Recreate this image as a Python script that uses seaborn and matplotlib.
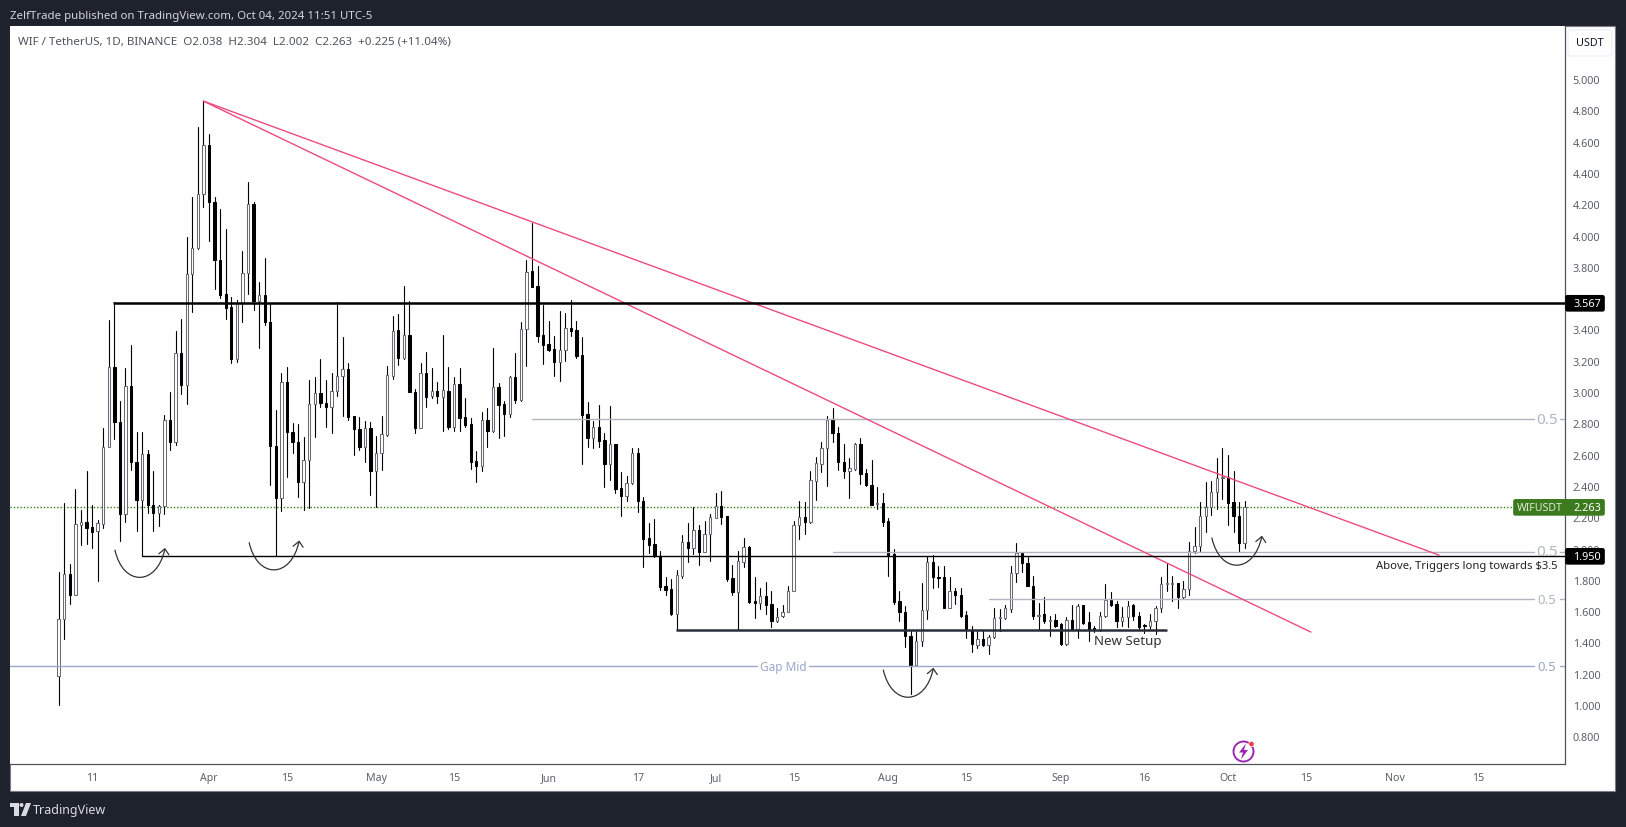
import numpy as np
import pandas as pd
import matplotlib
matplotlib.use('Agg')
import matplotlib.pyplot as plt
import seaborn as sns
from matplotlib.patches import Rectangle, FancyBboxPatch, PathPatch, Polygon, Circle
from matplotlib.path import Path

# ---------------------- data: WIF/USDT daily candles, day 0 = Apr 1 ----------------------
first_day = -27

opens = [1.187,1.547,1.84,1.705,2.152,2.169,2.135,2.11,2.158,2.646,
         3.157,2.81,2.222,3.036,2.55,2.312,2.602,2.28,2.229,2.273,
         2.819,2.682,3.247,3.047,3.752,3.918,4.263,4.578,4.216,3.845,
         3.624,3.541,3.211,3.569,3.758,4.199,3.581,3.62,3.449,2.657,
         2.325,3.062,2.746,2.678,2.423,2.563,2.921,2.993,2.927,2.906,
         3.008,3.10,3.145,2.844,2.766,2.648,2.768,2.495,2.608,2.725,
         3.104,3.394,3.219,3.362,2.998,2.772,3.119,2.972,3.006,2.97,
         3.004,2.778,3.049,2.838,2.795,2.557,2.529,2.819,2.748,3.03,
         2.921,2.861,3.096,2.946,3.40,3.773,3.675,3.364,3.304,3.275,
         3.194,3.266,3.407,3.394,3.236,2.857,2.704,2.774,2.691,2.54,
         2.665,2.384,2.337,2.416,2.608,2.305,2.065,2.026,1.95,1.758,
         1.741,1.581,1.826,2.039,2.003,2.116,1.98,2.09,2.197,2.269,
         2.207,1.811,1.724,1.916,2.007,1.664,1.651,1.698,1.643,1.536,
         1.566,1.596,1.73,2.152,2.199,2.167,2.433,2.54,2.642,2.823,
         2.736,2.55,2.497,2.508,2.665,2.482,2.408,2.284,2.288,2.175,
         1.962,1.664,1.592,1.438,1.257,1.411,1.605,1.911,1.818,1.815,
         1.619,1.728,1.703,1.575,1.479,1.385,1.421,1.385,1.432,1.553,
         1.556,1.613,1.841,1.969,1.905,1.762,1.571,1.583,1.538,1.543,
         1.515,1.389,1.543,1.485,1.637,1.528,1.49,1.479,1.566,1.668,
         1.645,1.538,1.56,1.637,1.566,1.509,1.507,1.534,1.617,1.775,
         1.775,1.779,1.692,1.741,1.984,2.018,2.21,2.263,2.363,2.452,
         2.459,2.295,2.205,2.038]

highs = [1.85,2.29,1.90,2.38,2.246,2.493,2.278,2.18,2.768,3.46,
         3.573,2.94,3.151,3.298,2.742,2.742,2.629,2.493,2.278,2.851,
         3.0,3.387,3.466,3.988,4.246,4.693,4.859,4.646,4.246,4.167,
         4.041,3.605,3.588,3.899,4.34,4.212,3.701,3.854,3.562,2.883,
         3.119,3.157,2.80,2.793,2.71,3.077,3.094,3.211,3.077,3.119,
         3.573,3.351,3.183,2.849,2.838,2.817,2.81,2.721,2.849,3.164,
         3.483,3.498,3.675,3.581,3.019,3.183,3.253,3.151,3.061,3.364,
         3.157,3.093,3.151,2.959,2.831,2.625,2.87,2.895,3.279,3.055,
         2.94,3.104,3.249,3.445,3.843,4.08,3.803,3.554,3.453,3.355,
         3.515,3.505,3.585,3.453,3.349,2.934,2.812,2.917,2.74,2.908,
         2.667,2.486,2.461,2.642,2.64,2.327,2.16,2.188,1.982,1.815,
         1.805,1.862,2.086,2.163,2.263,2.152,2.178,2.22,2.352,2.367,
         2.21,1.894,1.982,2.065,2.014,1.815,1.745,1.783,1.73,1.617,
         1.639,1.758,2.173,2.301,2.295,2.497,2.582,2.678,2.844,2.897,
         2.774,2.667,2.576,2.672,2.704,2.508,2.565,2.39,2.352,2.192,
         1.996,1.73,1.63,1.475,1.475,1.777,1.95,1.958,1.89,1.89,
         1.815,1.745,1.745,1.602,1.502,1.475,1.481,1.447,1.617,1.613,
         1.641,1.89,2.035,1.969,1.943,1.826,1.65,1.688,1.571,1.581,
         1.524,1.56,1.639,1.645,1.639,1.592,1.507,1.592,1.773,1.72,
         1.666,1.624,1.666,1.643,1.592,1.517,1.581,1.63,1.815,1.905,
         1.826,1.779,1.794,2.039,2.135,2.295,2.427,2.433,2.576,2.64,
         2.597,2.495,2.295,2.304]

lows = [1.00,1.42,1.645,1.70,2.02,2.03,2.005,1.794,2.131,2.646,
        2.70,2.05,2.17,2.504,2.114,1.954,2.229,2.114,2.141,2.222,
        2.631,2.661,2.987,2.925,3.509,3.914,4.184,3.967,3.658,3.603,
        3.466,3.185,3.194,3.449,3.626,3.524,3.283,3.43,2.408,1.954,
        2.242,2.459,2.61,2.327,2.248,2.256,2.714,2.902,2.778,2.738,
        2.976,2.849,2.823,2.597,2.631,2.555,2.342,2.265,2.501,2.721,
        3.083,3.172,3.211,2.998,2.738,2.772,2.906,2.96,2.93,2.753,
        2.763,2.753,2.748,2.774,2.508,2.422,2.497,2.65,2.742,2.704,
        2.721,2.842,2.927,2.942,3.168,3.669,3.321,3.181,3.262,3.104,
        3.072,3.198,3.36,3.219,2.54,2.65,2.642,2.65,2.395,2.437,
        2.354,2.21,2.305,2.412,2.231,1.884,1.971,1.943,1.737,1.705,
        1.575,1.481,1.809,1.911,1.965,1.896,1.975,1.922,2.193,2.156,
        1.794,1.705,1.481,1.879,1.649,1.558,1.613,1.581,1.5,1.528,
        1.56,1.592,1.73,2.06,2.092,2.163,2.31,2.486,2.401,2.682,
        2.503,2.45,2.325,2.503,2.412,2.397,2.278,2.252,2.146,1.826,
        1.645,1.539,1.368,1.07,1.251,1.375,1.549,1.747,1.756,1.619,
        1.619,1.645,1.564,1.428,1.34,1.364,1.379,1.326,1.428,1.47,
        1.549,1.592,1.788,1.847,1.762,1.549,1.481,1.524,1.443,1.5,
        1.385,1.385,1.481,1.426,1.517,1.406,1.464,1.475,1.56,1.634,
        1.5,1.507,1.496,1.545,1.485,1.458,1.485,1.453,1.592,1.73,
        1.666,1.619,1.677,1.705,1.969,1.986,2.103,2.214,2.252,2.316,
        2.15,2.103,1.975,2.002]

closes = [1.547,1.84,1.705,2.156,2.167,2.133,2.107,2.161,2.646,3.157,
          2.81,2.222,3.036,2.55,2.312,2.602,2.28,2.229,2.273,2.819,
          2.682,3.247,3.047,3.752,3.918,4.263,4.578,4.216,3.845,3.62,
          3.539,3.211,3.569,3.758,4.199,3.581,3.62,3.449,2.657,2.325,
          3.062,2.746,2.678,2.423,2.563,2.921,2.993,2.927,2.906,3.008,
          3.10,3.145,2.838,2.766,2.648,2.768,2.495,2.608,2.729,3.108,
          3.387,3.219,3.362,2.998,2.772,3.119,2.97,3.004,2.972,3.01,
          2.774,3.049,2.836,2.791,2.555,2.529,2.819,2.748,3.03,2.919,
          2.861,3.096,2.946,3.40,3.769,3.673,3.36,3.302,3.268,3.194,
          3.266,3.407,3.392,3.232,2.853,2.704,2.774,2.689,2.54,2.665,
          2.38,2.337,2.416,2.608,2.305,2.06,2.024,1.95,1.756,1.737,
          1.581,1.828,2.039,2.003,2.116,1.98,2.09,2.201,2.269,2.203,
          1.805,1.724,1.918,2.007,1.66,1.651,1.698,1.641,1.539,1.564,
          1.596,1.73,2.152,2.199,2.167,2.435,2.544,2.642,2.823,2.736,
          2.55,2.497,2.512,2.665,2.476,2.408,2.28,2.29,2.171,1.958,
          1.656,1.592,1.438,1.257,1.411,1.605,1.911,1.815,1.813,1.619,
          1.726,1.703,1.571,1.481,1.389,1.421,1.385,1.432,1.553,1.56,
          1.617,1.841,1.969,1.905,1.762,1.571,1.573,1.534,1.543,1.507,
          1.389,1.543,1.485,1.634,1.524,1.479,1.479,1.566,1.668,1.639,
          1.538,1.56,1.63,1.566,1.496,1.502,1.534,1.617,1.771,1.779,
          1.779,1.692,1.741,1.986,2.018,2.21,2.263,2.363,2.448,2.459,
          2.29,2.205,2.035,2.263]

price_ticks = [0.8,1.0,1.2,1.4,1.6,1.8,2.0,2.2,2.4,2.6,2.8,3.0,3.2,3.4,3.6,3.8,4.0,4.2,4.4,4.6,4.8,5.0]
date_ticks = [-21,0,14,30,44,61,77,91,105,122,136,153,168,183,197,213,228]
date_labels = ['11','Apr','15','May','15','Jun','17','Jul','15','Aug','15','Sep','16','Oct','15','Nov','15']

last_price = 2.263
resistance = 3.567
trigger = 1.95
setup_level = 1.481
gap_mid = 1.249
fib_levels = [2.827, 1.98, 1.677]
fib_starts = [58, 112, 140]
scribble_days = [-16.9, 7.2, 121.1, 180.1]
scribble_prices = [1.992, 2.04, 1.226, 2.07]

# ---------------------- page layout ----------------------
W, H = 1626, 828
L, T, R, B = 10, 27, 1565, 765
PANE_R, STRIP_B = 1615, 792
DARK = '#1e222d'
PINK = '#ee4a80'
GREY = '#b2b5be'
BLUE = '#9aa7c9'
TEXT = '#5d606b'
GREEN = '#3c7a1e'

sns.set_theme(style='white')
plt.rcParams['font.family'] = ['Noto Sans', 'DejaVu Sans']

fig = plt.figure(figsize=(W / 100, H / 100), dpi=100, facecolor=DARK)
ax = fig.add_axes([L / W, 1 - B / H, (R - L) / W, (B - T) / H], facecolor='white', zorder=1)
over = fig.add_axes([0, 0, 1, 1], zorder=2)
over.set_xlim(0, W)
over.set_ylim(H, 0)
over.axis('off')
over.patch.set_alpha(0)

# white panes behind the axes
fig.patches.append(Rectangle((L / W, 1 - STRIP_B / H), (PANE_R - L) / W, (STRIP_B - T) / H,
                             transform=fig.transFigure, fc='white', ec='#787b86', lw=0.8, zorder=0))

ax.set_xlim(-35.74, 243.53)
ax.set_ylim(0.623, 5.339)

# ---------------------- candles ----------------------
days = np.arange(first_day, first_day + len(opens))
candles = pd.DataFrame({'day': days, 'open': opens, 'high': highs, 'low': lows, 'close': closes})
wicks = candles.melt(id_vars='day', value_vars=['low', 'high'], value_name='price')
sns.lineplot(data=wicks, x='day', y='price', units='day', estimator=None, color='black',
             lw=0.8, legend=False, ax=ax, zorder=2)

up = candles[candles['close'] >= candles['open']]
down = candles[candles['close'] < candles['open']]
ax.bar(up['day'], up['close'] - up['open'], bottom=up['open'], width=0.42,
       fc='white', ec='#686b76', lw=0.75, zorder=3)
ax.bar(down['day'], down['open'] - down['close'], bottom=down['close'], width=0.42,
       fc='black', ec='black', lw=0.75, zorder=3)

# ---------------------- drawing tools ----------------------
x_left, x_right = ax.get_xlim()
line_end = 237.9   # where the line labels start
stub_start = 242.6  # short piece after the label
label_x = 240.3

ax.plot([-1, 220.9], [4.859, 1.958], color=PINK, lw=1.0, zorder=5)
ax.plot([-1, 197.9], [4.859, 1.466], color=PINK, lw=1.0, zorder=5)
ax.plot([-17.2, x_right], [resistance] * 2, color='black', lw=1.8, zorder=5, solid_capstyle='butt')
ax.plot([-12, x_right], [trigger] * 2, color='black', lw=1.0, zorder=5, solid_capstyle='butt')
ax.plot([83.8, 172], [setup_level] * 2, color='#2a2e39', lw=1.8, zorder=5, solid_capstyle='butt')
ax.plot([x_left, x_right], [last_price] * 2, color='#2f7d12', lw=1.0, ls=(0, (1, 1.4)), zorder=1.5)

for level, start in zip(fib_levels, fib_starts):
    ax.plot([start, line_end], [level] * 2, color=GREY, lw=1.0, zorder=4)
    ax.plot([stub_start, x_right], [level] * 2, color=GREY, lw=1.0, zorder=4)
    ax.text(label_x, level, '0.5', color=GREY, fontsize=9.5 if level == 1.677 else 11,
            ha='center', va='center', zorder=6)

ax.plot([x_left, 98.4], [gap_mid] * 2, color=BLUE, lw=1.0, zorder=4)
ax.plot([107.8, line_end], [gap_mid] * 2, color=BLUE, lw=1.0, zorder=4)
ax.plot([stub_start, x_right], [gap_mid] * 2, color=BLUE, lw=1.0, zorder=4)
ax.text(103.1, gap_mid, 'Gap Mid', color=BLUE, fontsize=8.5, ha='center', va='center')
ax.text(label_x, gap_mid, '0.5', color=BLUE, fontsize=9.5, ha='center', va='center', zorder=6)

ax.text(202.9, 2.214, '.', color='#333333', fontsize=5, ha='center', va='bottom')

ax.text(165, 1.41, 'New Setup', color='#333333', fontsize=9.6, ha='center', va='center', zorder=6)
ax.text(1.0 - 8 / (R - L), 1.89, r'Above, Triggers long towards \$3.5', color='#222222', fontsize=8.1,
        ha='right', va='center', transform=ax.get_yaxis_transform(), zorder=6)

# ---------------------- axes ----------------------
ax.yaxis.tick_right()
ax.set_yticks(price_ticks)
ax.set_yticklabels([f'{p:.3f}' for p in price_ticks])
ax.set_xticks(date_ticks)
ax.set_xticklabels(date_labels)
ax.tick_params(axis='y', length=0, pad=5.5, labelsize=7.8, labelcolor=TEXT)
ax.tick_params(axis='x', length=0, pad=6, labelsize=7.6, labelcolor=TEXT)
ax.set_xlabel('')
ax.set_ylabel('')
for side in ['top', 'left']:
    ax.spines[side].set_visible(False)
for side in ['right', 'bottom']:
    ax.spines[side].set_color('#50535e')
    ax.spines[side].set_linewidth(0.9)


def y_px(price):
    return H - ax.transData.transform((0, price))[1]


def x_px(day):
    return ax.transData.transform((day, 0))[0]


# price tags on the scale
def tag(price, text, color, x0=R, x1=1605):
    y = y_px(price)
    over.add_patch(FancyBboxPatch((x0 + 1, y - 7.5), x1 - x0 - 2, 15, boxstyle='round,pad=0,rounding_size=1.5',
                                  fc=color, ec=color, lw=1.2, zorder=5))
    over.text(1573, y, text, color='white', fontsize=7.8, fontweight='bold', ha='left', va='center', zorder=6)


tag(resistance, '3.567', 'black')
tag(trigger, '1.950', 'black')
tag(last_price, '2.263', GREEN, x0=1513)
over.text(1517, y_px(last_price), 'WIFUSDT', color='#dfe8d8', fontsize=7.6, fontweight='bold',
          ha='left', va='center', zorder=6)

# hand drawn arrows
for d, p in zip(scribble_days, scribble_prices):
    x0, y0 = x_px(d), y_px(p)
    curve = Path([(x0, y0), (x0 + 8, y0 + 37), (x0 + 42, y0 + 37), (x0 + 50, y0 - 1)],
                 [Path.MOVETO, Path.CURVE4, Path.CURVE4, Path.CURVE4])
    over.add_patch(PathPatch(curve, fc='none', ec='#333333', lw=0.9))
    over.plot([x0 + 44, x0 + 50, x0 + 54], [y0 + 4, y0 - 1, y0 + 5], color='#333333', lw=0.9)

# ---------------------- page chrome ----------------------
over.text(10, 16.5, 'ZelfTrade published on TradingView.com, Oct 04, 2024 11:51 UTC-5',
          color='#d1d4dc', fontsize=8.25, ha='left', va='center')
over.text(18, 42.5, 'WIF / TetherUS, 1D, BINANCE  O2.038  H2.304  L2.002  C2.263  +0.225 (+11.04%)',
          color='#50535e', fontsize=8.35, ha='left', va='center')

over.add_patch(FancyBboxPatch((1568, 31), 44, 26, boxstyle='round,pad=0,rounding_size=3',
                              fc='white', ec='#f0f3fa', lw=1.2))
over.text(1590, 44, 'USDT', color='#131722', fontsize=7.8, ha='center', va='center')

# TradingView logo
over.add_patch(Polygon([(10, 804), (19, 804), (19, 817), (14, 817), (14, 808), (10, 808)], fc='#d9dbe2', ec='none'))
over.add_patch(Circle((21.5, 806), 2, fc='#d9dbe2', ec='none'))
over.add_patch(Polygon([(26, 804), (31, 804), (26, 817), (21, 817)], fc='#d9dbe2', ec='none'))
over.text(33, 811, 'TradingView', color='#d9dbe2', fontsize=9.0, ha='left', va='center')

# flash icon
over.add_patch(Circle((1243.5, 752.5), 10, fc='white', ec='#9c27b0', lw=1.4, zorder=4))
over.add_patch(Polygon([(1246, 744.5), (1239, 753.5), (1243, 753.5), (1241, 760.5), (1248, 751), (1244, 751)],
                       fc='#9c27b0', ec='none', zorder=5))
over.add_patch(Circle((1251.5, 745), 2.7, fc='#f23645', ec='white', lw=0.5, zorder=6))

fig.savefig('out.png', dpi=100, facecolor=DARK)
